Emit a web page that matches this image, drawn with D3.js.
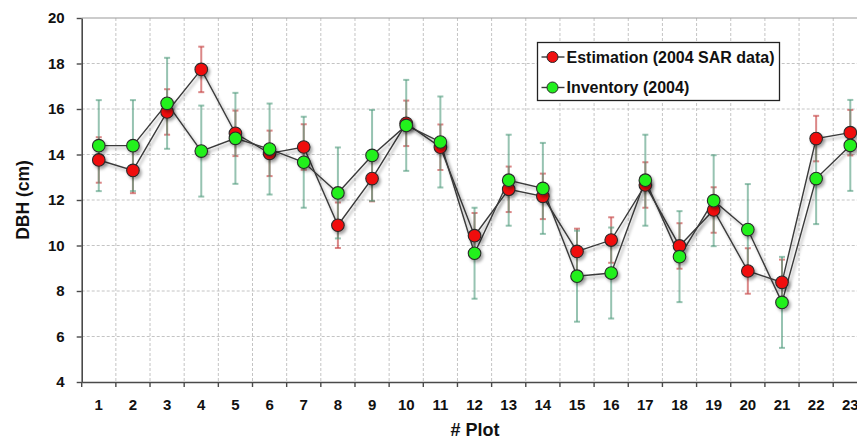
<!DOCTYPE html>
<html>
<head>
<meta charset="utf-8">
<script src="https://cdn.jsdelivr.net/npm/d3@7"></script>
<style>
  html, body { margin: 0; padding: 0; background: #fff; }
  svg { display: block; font-family: "Liberation Sans", Arial, sans-serif; }
</style>
</head>
<body>
<svg id="chart" width="857" height="440"></svg>
<script>
// plot ids along the x axis
const plots = ['1','2','3','4','5','6','7','8','9','10','11','12','13','14','15','16','17','18','19','20','21','22','23'];

// DBH estimated from 2004 SAR data (cm) and its error
const estimation = [13.76, 13.30, 15.87, 17.74, 14.93, 14.05, 14.33, 10.89, 12.94, 15.37, 14.32, 10.43, 12.47, 12.16, 9.74, 10.24, 12.66, 9.98, 11.56, 8.88, 8.38, 14.70, 14.96];
const estimationErr = [1.0, 1.0, 1.0, 1.0, 1.0, 1.0, 1.0, 1.0, 1.0, 1.0, 1.0, 1.0, 1.0, 1.0, 1.0, 1.0, 1.0, 1.0, 1.0, 1.0, 1.0, 1.0, 1.0];

// DBH from the 2004 field inventory (cm) and its error
const inventory = [14.39, 14.39, 16.25, 14.15, 14.71, 14.24, 13.66, 12.31, 13.96, 15.28, 14.55, 9.66, 12.87, 12.51, 8.65, 8.79, 12.87, 9.51, 11.97, 10.70, 7.50, 12.94, 14.40];
const inventoryErr = [2.0, 2.0, 2.0, 2.0, 2.0, 2.0, 2.0, 2.0, 2.0, 2.0, 2.0, 2.0, 2.0, 2.0, 2.0, 2.0, 2.0, 2.0, 2.0, 2.0, 2.0, 2.0, 2.0];

const yTicks = [4, 6, 8, 10, 12, 14, 16, 18, 20];

const series = [
  { name: 'Estimation (2004 SAR data)', values: estimation, errors: estimationErr,
    fill: '#f01010', errColor: 'rgba(200, 70, 70, 0.65)' },
  { name: 'Inventory (2004)', values: inventory, errors: inventoryErr,
    fill: '#22f01e', errColor: 'rgba(80, 155, 125, 0.6)' },
];

const plotLeft = 81.7, plotTop = 18, plotBottom = 382;
const bandW = 34.16;

const svg = d3.select('#chart');

const x = d3.scaleBand().domain(plots).range([plotLeft, plotLeft + bandW * plots.length]).padding(0);
const y = d3.scaleLinear().domain([4, 20]).range([plotBottom, plotTop]);

const defs = svg.append('defs');
defs.append('filter')
  .attr('id', 'shadow')
  .attr('x', '-50%').attr('y', '-50%').attr('width', '200%').attr('height', '200%')
  .append('feDropShadow')
  .attr('dx', 2).attr('dy', 2.5).attr('stdDeviation', 1.6)
  .attr('flood-color', '#000').attr('flood-opacity', 0.35);

// dashed grid
const grid = svg.append('g').attr('class', 'grid');
grid.selectAll('line.h')
  .data(yTicks.filter((t) => t > 4 && t < 20))
  .join('line')
  .attr('class', 'h')
  .attr('x1', plotLeft).attr('x2', 857)
  .attr('y1', (d) => y(d)).attr('y2', (d) => y(d));
grid.selectAll('line.v')
  .data(plots.slice(1))
  .join('line')
  .attr('class', 'v')
  .attr('x1', (d) => x(d)).attr('x2', (d) => x(d))
  .attr('y1', plotTop).attr('y2', plotBottom);
grid.selectAll('line')
  .attr('stroke', '#c4c4c4')
  .attr('stroke-width', 1)
  .attr('stroke-dasharray', '3,2');

// top frame
svg.append('line')
  .attr('x1', plotLeft).attr('x2', 857)
  .attr('y1', plotTop).attr('y2', plotTop)
  .attr('stroke', '#9a9a9a').attr('stroke-width', 1.2);

// axes
const yAxis = svg.append('g')
  .attr('transform', `translate(${plotLeft},0)`)
  .call(d3.axisLeft(y).tickValues(yTicks).tickSize(5).tickPadding(12).tickSizeOuter(0));

const xAxis = svg.append('g')
  .attr('transform', `translate(0,${plotBottom})`)
  .call(d3.axisBottom(x).tickSize(0).tickPadding(17));

// x ticks sit on band boundaries
xAxis.selectAll('line.edge')
  .data(d3.range(plots.length + 1))
  .join('line')
  .attr('class', 'edge')
  .attr('x1', (i) => plotLeft + i * bandW).attr('x2', (i) => plotLeft + i * bandW)
  .attr('y1', 0).attr('y2', 5);

[yAxis, xAxis].forEach((g) => {
  g.select('.domain').attr('stroke', '#4a4a4a').attr('stroke-width', 1.6);
  g.selectAll('line').attr('stroke', '#4a4a4a').attr('stroke-width', 1.4);
  g.selectAll('text')
    .attr('fill', '#111')
    .style('font-size', '15px')
    .style('font-weight', 'bold');
});
xAxis.selectAll('.tick text').attr('dy', '0.71em');

// axis titles
svg.append('text')
  .attr('transform', `translate(29,${(plotTop + plotBottom) / 2}) rotate(-90)`)
  .attr('text-anchor', 'middle')
  .style('font-size', '17.5px')
  .style('font-weight', 'bold')
  .attr('fill', '#111')
  .text('DBH (cm)');

svg.append('text')
  .attr('x', 475).attr('y', 436)
  .attr('text-anchor', 'middle')
  .style('font-size', '18px')
  .style('font-weight', 'bold')
  .attr('fill', '#111')
  .text('# Plot');

const cx = (i) => x(plots[i]) + x.bandwidth() / 2;

// error bars
series.forEach((s) => {
  const g = svg.append('g').attr('class', 'errors');
  const bars = g.selectAll('g').data(s.values).join('g');
  bars.append('line')
    .attr('x1', (d, i) => cx(i)).attr('x2', (d, i) => cx(i))
    .attr('y1', (d, i) => y(d + s.errors[i])).attr('y2', (d, i) => y(d - s.errors[i]));
  bars.append('line')
    .attr('x1', (d, i) => cx(i) - 3).attr('x2', (d, i) => cx(i) + 3)
    .attr('y1', (d, i) => y(d + s.errors[i])).attr('y2', (d, i) => y(d + s.errors[i]));
  bars.append('line')
    .attr('x1', (d, i) => cx(i) - 3).attr('x2', (d, i) => cx(i) + 3)
    .attr('y1', (d, i) => y(d - s.errors[i])).attr('y2', (d, i) => y(d - s.errors[i]));
  bars.selectAll('line').attr('stroke', s.errColor).attr('stroke-width', 2);
});

const line = d3.line().x((d, i) => cx(i)).y((d) => y(d));

// lines and markers
series.forEach((s) => {
  svg.append('path')
    .datum(s.values)
    .attr('d', line)
    .attr('fill', 'none')
    .attr('stroke', '#3a3a3a')
    .attr('stroke-width', 1.4)
    .attr('filter', 'url(#shadow)');
});

series.forEach((s) => {
  svg.append('g')
    .attr('filter', 'url(#shadow)')
    .selectAll('circle')
    .data(s.values)
    .join('circle')
    .attr('cx', (d, i) => cx(i))
    .attr('cy', (d) => y(d))
    .attr('r', 6.3)
    .attr('fill', s.fill)
    .attr('stroke', '#2a2a2a')
    .attr('stroke-width', 1.1);
});

// legend
const legend = svg.append('g').attr('transform', 'translate(537.5,42.5)');
legend.append('rect')
  .attr('width', 242).attr('height', 58)
  .attr('fill', '#fff')
  .attr('stroke', '#222')
  .attr('stroke-width', 1.3);

const rows = legend.selectAll('g.row')
  .data(series)
  .join('g')
  .attr('class', 'row')
  .attr('transform', (d, i) => `translate(0,${14.5 + i * 30.5})`);
rows.append('line')
  .attr('x1', 4).attr('x2', 27)
  .attr('stroke', '#3a3a3a').attr('stroke-width', 1.4);
rows.append('circle')
  .attr('cx', 15).attr('r', 5.5)
  .attr('fill', (d) => d.fill)
  .attr('stroke', '#2a2a2a').attr('stroke-width', 1);
rows.append('text')
  .attr('x', 29).attr('dy', '0.36em')
  .style('font-size', '16px')
  .style('font-weight', 'bold')
  .attr('fill', '#111')
  .text((d) => d.name);
</script>
</body>
</html>
